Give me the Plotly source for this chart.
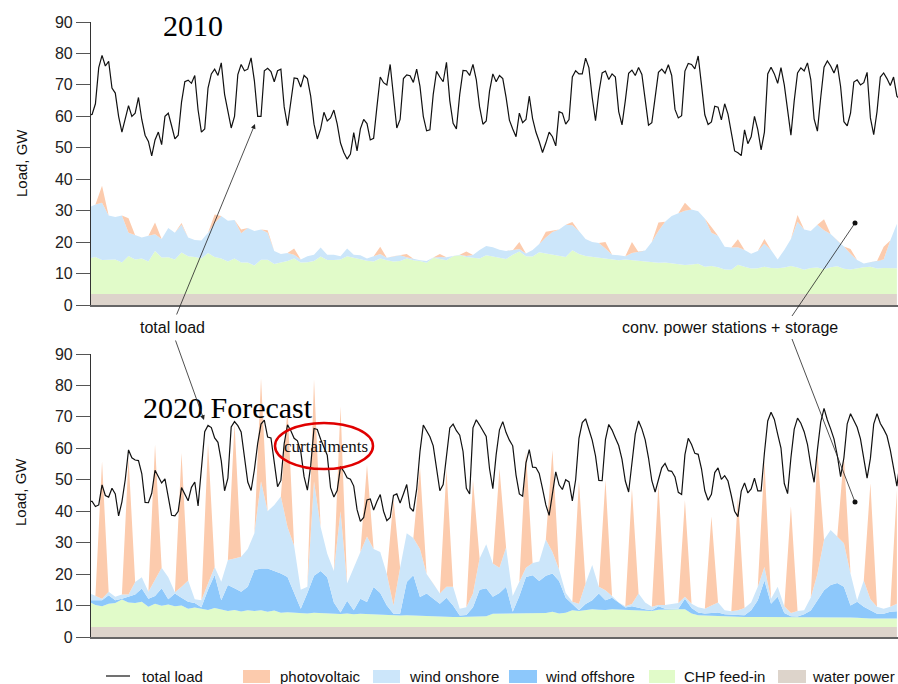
import plotly.graph_objects as go

# ---------------------------------------------------------------------------
# Data: one month of German power feed-in, 2010 vs. 2020 forecast (GW)
# Areas are sampled every 6 h, the total load every 3 h.
# ---------------------------------------------------------------------------
AREA_STEP_H = 6
LOAD_STEP_H = 3

load_2010 = [
    60.5, 60.6, 64, 75.5, 79.4, 76, 77.5, 69, 67.4, 60,
    55, 59, 63.4, 60, 61, 66, 59, 54, 52, 47.4,
    52.5, 55, 51, 60, 61, 57, 52.8, 54, 64.5, 71,
    71.5, 70.5, 73, 62, 55, 56, 69, 73.5, 75, 73,
    77, 67, 61.7, 56.3, 60, 73.3, 76.5, 74.5, 75, 78.6,
    71.3, 60, 60, 74.5, 75.3, 74.2, 71, 74.5, 75, 63,
    57, 65, 72.2, 72, 69.3, 73, 72, 66.4, 57.5, 52.8,
    56, 61.3, 58.5, 59.5, 62, 57.6, 51.5, 48.5, 46.4, 48,
    54.8, 49, 56, 59, 57.7, 52.5, 53, 63, 72.5, 70.7,
    70, 76.5, 66.5, 56.3, 59, 72, 73.2, 72.9, 70.8, 75,
    69.5, 60, 55.4, 55.7, 67, 74.3, 72.5, 71, 77.2, 65,
    57.8, 56, 67, 74.6, 74.5, 73, 76.5, 71.7, 63, 57.5,
    58.5, 68, 73.5, 71, 73, 72, 66, 58.8, 56, 53.5,
    61, 58, 59, 66.4, 59.3, 55, 52, 48.5, 51.5, 55,
    53.5, 50.6, 61.5, 61, 57.5, 59, 72.5, 74.5, 73.5, 73.5,
    78.5, 75.5, 66, 58.6, 67.5, 73.8, 74.4, 71.7, 73.5, 72.5,
    61.5, 57.3, 65, 73.7, 74.7, 73, 75.5, 73.3, 65.3, 57.2,
    58, 65.5, 74, 75, 73.7, 76.4, 73, 62.2, 59.5, 60.2,
    74.4, 76.8, 76.5, 75.1, 79.2, 70, 60.5, 57.4, 58.2, 63.2,
    62.9, 58.9, 64, 60.7, 54.4, 49, 48.4, 47.5, 55.7, 51.3,
    53.5, 60, 55.8, 49.3, 55, 73.5, 75.6, 73.5, 70.5, 75.5,
    70, 61.5, 54, 65, 73.8, 75.4, 74.4, 77, 71.7, 59.2,
    55.3, 66, 75.6, 77.6, 76, 73.8, 76.5, 69.5, 58.3, 57,
    61, 70.9, 71.6, 70, 70.7, 74, 59.5, 54.2, 61.5, 72.5,
    73.8, 72, 69.8, 72.5, 66.4, 65.2,
]

water_2010 = [
    3.5, 3.5, 3.5, 3.5, 3.5, 3.5, 3.5, 3.5, 3.5, 3.5,
    3.5, 3.5, 3.5, 3.5, 3.5, 3.5, 3.5, 3.5, 3.5, 3.5,
    3.5, 3.5, 3.5, 3.5, 3.5, 3.5, 3.5, 3.5, 3.5, 3.5,
    3.5, 3.5, 3.5, 3.5, 3.5, 3.5, 3.5, 3.5, 3.5, 3.5,
    3.5, 3.5, 3.5, 3.5, 3.5, 3.5, 3.5, 3.5, 3.5, 3.5,
    3.5, 3.5, 3.5, 3.5, 3.5, 3.5, 3.5, 3.5, 3.5, 3.5,
    3.5, 3.5, 3.5, 3.5, 3.5, 3.5, 3.5, 3.5, 3.5, 3.5,
    3.5, 3.5, 3.5, 3.5, 3.5, 3.5, 3.5, 3.5, 3.5, 3.5,
    3.5, 3.5, 3.5, 3.5, 3.5, 3.5, 3.5, 3.5, 3.5, 3.5,
    3.5, 3.5, 3.5, 3.5, 3.5, 3.5, 3.5, 3.5, 3.5, 3.5,
    3.5, 3.5, 3.5, 3.5, 3.5, 3.5, 3.5, 3.5, 3.5, 3.5,
    3.5, 3.5, 3.5, 3.5, 3.5, 3.5, 3.5, 3.5, 3.5, 3.5,
    3.5, 3.5, 3.5,
]

chp_2010 = [
    11.3, 11.8, 10.8, 11.0, 11.0, 10.0, 12.1, 11.0, 11.3, 10.3,
    13.7, 11.6, 11.7, 11.0, 13.2, 12.0, 11.8, 11.3, 13.0, 11.8,
    11.3, 10.3, 11.3, 10.0, 10.0, 9.1, 10.9, 10.9, 9.5, 10.0,
    10.5, 11.3, 10.0, 10.1, 10.5, 11.9, 10.8, 10.8, 11.0, 12.0,
    11.5, 10.9, 10.6, 10.3, 11.3, 10.7, 10.3, 10.5, 11.3, 10.7,
    10.5, 9.9, 11.5, 11.1, 10.7, 12.0, 12.3, 11.8, 11.5, 11.3,
    12.3, 11.8, 11.5, 11.1, 12.5, 13.5, 12.0, 11.9, 13.3, 12.9,
    12.5, 12.0, 11.8, 13.9, 12.7, 12.1, 11.8, 11.7, 11.3, 11.1,
    10.7, 11.0, 10.8, 10.7, 10.3, 10.1, 9.9, 10.0, 9.7, 9.5,
    9.2, 9.4, 9.6, 8.7, 8.9, 8.5, 7.8, 7.7, 9.3, 8.7,
    8.1, 8.2, 8.7, 8.3, 8.2, 8.4, 8.9, 8.4, 7.7, 8.3,
    8.4, 7.9, 8.5, 8.8, 8.0, 7.8, 8.2, 8.5, 8.7, 8.1,
    8.3, 8.2, 8.2,
]

onshore_2010 = [
    16.2, 16.7, 18.2, 14.0, 13.5, 15.0, 7.4, 7.7, 6.7, 8.2,
    5.3, 5.9, 9.3, 8.5, 8.8, 6.0, 5.4, 5.7, 6.5, 10.7,
    13.5, 13.0, 12.2, 9.3, 11.0, 10.9, 9.6, 8.6, 4.2, 2.7,
    2.5, 1.2, 1.0, 1.9, 2.0, 2.9, 1.7, 1.7, 1.0, 2.5,
    1.0, 1.4, 0.7, 1.7, 1.4, 0.8, 1.7, 1.8, 0.4, 0.5,
    0.2, 0.6, 0.1, 0.7, 1.0, 0.1, 0.2, 0.3, 0.9, 2.7,
    3.0, 3.1, 2.6, 2.6, 1.4, 0.8, 0.9, 2.1, 2.6, 5.1,
    7.2, 8.5, 10.2, 8.0, 7.3, 5.4, 4.7, 4.5, 3.2, 1.4,
    1.6, 1.0, 2.2, 2.6, 3.5, 6.4, 10.1, 13.0, 15.1, 16.2,
    17.3, 17.5, 16.7, 15.3, 10.6, 10.0, 7.2, 7.1, 5.6, 5.3,
    4.7, 5.5, 7.3, 5.7, 2.8, 5.6, 8.6, 14.6, 12.8, 11.7,
    13.6, 12.4, 10.6, 8.2, 7.1, 5.0, 2.6, 1.2, 1.4, 2.4,
    2.7, 8.8, 14.1,
]

pv_2010 = [
    0, 0, 5.4, 0, 0, 0, 4.6, 0, 0, 0,
    3.7, 0, 0, 0, 0.6, 0, 0, 0, 0, 2.8,
    0, 0, 0, 1.2, 0, 0, 0, 0.8, 0, 0,
    0, 2.0, 0, 0, 0, 0, 0, 0, 0, 0,
    0, 0, 0, 0, 2.3, 0, 0, 0, 1.0, 0,
    0, 0, 0, 0.9, 0, 0, 0, 1.4, 0, 0,
    0, 0, 0, 0, 0, 2.2, 0, 0, 0, 1.8,
    0.5, 0, 0, 1.0, 0, 0, 0, 0, 2.0, 0,
    0, 0, 3.5, 0, 0, 0, 2.7, 0, 0, 0,
    2.5, 0, 0, 0, 1.8, 0, 0, 0, 2.5, 0,
    0, 0, 1.5, 0, 0, 0, 0, 2.1, 0, 0,
    0, 3.5, 0, 0, 0, 1.5, 0, 0, 0, 0,
    4.0, 0, 0,
]

load_2020 = [
    43.1, 43.1, 41.5, 42, 48.4, 45, 44.5, 47.3, 45.5, 38.5,
    43, 50, 59.5, 57, 56.3, 56.1, 52, 42.8, 42.7, 45.7,
    53, 51, 49, 50.3, 44.5, 38.7, 38.5, 40, 47.5, 45.5,
    43.3, 47.6, 49.3, 41.7, 54, 65.3, 67.3, 66.6, 63.3, 61.9,
    56, 46.5, 50.5, 66.8, 68.5, 67.2, 65.2, 57, 49.3, 46.6,
    53.2, 61.6, 67.7, 69, 63.6, 63.3, 55.7, 47.8, 49.8, 61.5,
    67.5, 65.6, 63.2, 62.4, 59, 51, 46.7, 54.5, 66.3, 66,
    62.9, 60.5, 57.8, 47.5, 44.5, 46.6, 54.2, 52.7, 50.6, 50.2,
    48, 40.5, 36.8, 38, 43.6, 43.9, 40.4, 43.1, 45.3, 40,
    37, 38, 45, 45.5, 42.6, 45.5, 48.5, 41.1, 40, 47,
    59, 67.4, 65.3, 63.7, 60.8, 53, 46.5, 48.5, 58, 66.5,
    67.7, 65.6, 64.2, 59, 47.3, 45.5, 66.5, 69.1, 67.4, 65.6,
    63.8, 53.5, 47.2, 58, 65.9, 68.5, 65, 62.6, 60.8, 51.5,
    45.5, 44.8, 55.4, 59.6, 54, 53.9, 52, 47.2, 42, 38.7,
    46, 52.5, 48.4, 46.9, 50, 49.3, 43.3, 50, 63.2, 68.2,
    69.4, 65.7, 62.6, 57.6, 49.8, 49.7, 62.8, 67.6, 65.8, 63.3,
    60.9, 56.5, 49.6, 46.1, 55, 64.5, 68.7, 66.2, 62.7, 57,
    49.7, 46.1, 50, 53.8, 55.2, 52.9, 52.7, 50.9, 46, 45.3,
    58, 63.2, 61.2, 58.4, 58.1, 53.5, 46.5, 43.5, 45.4, 52.3,
    53.8, 50.1, 51.3, 49.6, 45, 40, 38.3, 46.4, 49, 45.8,
    47.1, 50.5, 46.5, 46.5, 58.5, 68.7, 71.5, 69.2, 64.5, 60.1,
    48.8, 45.6, 57, 66.1, 69.6, 68, 65.3, 61.3, 54.6, 49.2,
    59.5, 68.3, 72.7, 69, 66.2, 63, 57.8, 51, 57, 67.8,
    71, 68.6, 66.7, 63, 56.3, 50.5, 56.8, 67.7, 71, 67.9,
    66.1, 64, 59.5, 53.6, 48, 56,
]

water_2020 = [
    3.2, 3.2, 3.2, 3.2, 3.2, 3.2, 3.2, 3.2, 3.2, 3.2,
    3.2, 3.2, 3.2, 3.2, 3.2, 3.2, 3.2, 3.2, 3.2, 3.2,
    3.2, 3.2, 3.2, 3.2, 3.2, 3.2, 3.2, 3.2, 3.2, 3.2,
    3.2, 3.2, 3.2, 3.2, 3.2, 3.2, 3.2, 3.2, 3.2, 3.2,
    3.2, 3.2, 3.2, 3.2, 3.2, 3.2, 3.2, 3.2, 3.2, 3.2,
    3.2, 3.2, 3.2, 3.2, 3.2, 3.2, 3.2, 3.2, 3.2, 3.2,
    3.2, 3.2, 3.2, 3.2, 3.2, 3.2, 3.2, 3.2, 3.2, 3.2,
    3.2, 3.2, 3.2, 3.2, 3.2, 3.2, 3.2, 3.2, 3.2, 3.2,
    3.2, 3.2, 3.2, 3.2, 3.2, 3.2, 3.2, 3.2, 3.2, 3.2,
    3.2, 3.2, 3.2, 3.2, 3.2, 3.2, 3.2, 3.2, 3.2, 3.2,
    3.2, 3.2, 3.2, 3.2, 3.2, 3.2, 3.2, 3.2, 3.2, 3.2,
    3.2, 3.2, 3.2, 3.2, 3.2, 3.2, 3.2, 3.2, 3.2, 3.2,
    3.2, 3.2, 3.2,
]

chp_2020 = [
    8.0, 7.0, 6.6, 7.4, 7.6, 8.7, 7.8, 7.6, 8.0, 6.4,
    7.4, 6.7, 7.1, 6.6, 6.8, 5.8, 6.2, 5.8, 5.4, 6.0,
    5.5, 5.1, 5.4, 4.9, 5.3, 5.1, 5.3, 4.8, 5.2, 4.5,
    4.7, 4.6, 4.4, 4.3, 4.5, 4.4, 4.2, 4.3, 4.1, 4.3,
    4.0, 4.2, 4.1, 4.0, 3.8, 3.9, 3.7, 3.6, 3.7, 3.6,
    3.6, 3.5, 3.4, 3.3, 3.2, 3.2, 3.2, 3.2, 3.3, 3.3,
    3.4, 4.2, 4.2, 4.2, 4.2, 4.2, 4.2, 4.2, 4.2, 4.4,
    4.8, 4.3, 4.5, 5.3, 5.1, 5.4, 5.6, 5.5, 5.4, 5.6,
    5.5, 5.4, 5.5, 5.4, 5.2, 5.1, 5.5, 5.6, 5.7, 5.6,
    5.6, 4.3, 3.7, 3.6, 3.6, 3.6, 3.5, 3.4, 3.3, 3.2,
    3.2, 3.2, 3.2, 3.2, 3.2, 3.2, 3.2, 3.2, 3.1, 3.1,
    3.1, 3.1, 3.0, 3.0, 3.0, 3.0, 2.9, 2.7, 2.7, 2.7,
    2.7, 2.7, 2.7,
]

offshore_2020 = [
    0.5, 1.5, 1.9, 2.7, 0.9, 0.3, 1.8, 2.7, 4.2, 2.6,
    2.4, 5.6, 1.7, 4.0, 2.5, 2.2, 1.4, 0.5, 6.4, 10.5,
    3.0, 8.2, 6.9, 6.3, 7.5, 13.0, 13.3, 13.8, 12.6, 12.5,
    11.2, 6.2, 1.4, 6.5, 11.8, 13.4, 11.6, 3.5, 0.5, 4.0,
    1.3, 4.8, 3.8, 8.7, 7.0, 2.9, 0.5, 0.6, 10.6, 12.8,
    5.9, 7.1, 5.6, 4.1, 6.1, 3.6, 0.4, 0.6, 3.0, 8.5,
    8.9, 5.4, 6.6, 8.6, 0.6, 5.6, 11.7, 12.2, 10.4, 11.9,
    12.2, 10.3, 4.8, 2.0, 0.2, 1.9, 2.9, 5.1, 3.1, 3.7,
    2.1, 0.8, 1.1, 0.6, 0.4, 0.2, 1.1, 0.2, 0.1, 0.2,
    3.4, 1.7, 0.9, 0.7, 0.8, 1.0, 0.5, 0.4, 0.5, 0.5,
    2.1, 5.3, 11.6, 4.2, 6.4, 1.2, 0.2, 0.1, 0.9, 2.1,
    5.2, 8.6, 10.3, 11.0, 9.8, 3.8, 5.1, 3.7, 2.6, 1.5,
    1.5, 2.1, 2.3,
]

onshore_2020 = [
    2.3, 1.3, 0.5, 1.1, 1.1, 1.3, 0.7, 4.0, 3.6, 2.2,
    5.0, 6.5, 7.0, 0.4, 3.5, 6.8, 1.2, 2.2, 2.0, 2.6,
    5.9, 8.0, 9.5, 11.1, 12.0, 11.7, 27.7, 18.2, 21.0, 24.5,
    15.9, 15.0, 6.0, 2.0, 30.0, 14.0, 7.5, 10.0, 32.2, 5.5,
    13.5, 14.8, 20.9, 12.1, 13.0, 10.0, 2.6, 14.6, 15.5, 11.9,
    15.3, 6.2, 4.8, 3.2, 3.5, 6.0, 2.2, 2.5, 4.3, 10.0,
    14.0, 10.6, 8.0, 12.5, 5.0, 4.5, 2.9, 3.9, 6.2, 11.5,
    6.8, 3.7, 1.5, 0.7, 2.1, 6.5, 11.2, 2.2, 3.2, 0.5,
    0.2, 0.4, 0.7, 4.6, 2.2, 1.1, 0.4, 1.2, 1.5, 1.8,
    0.6, 1.4, 1.7, 1.5, 2.4, 3.2, 1.3, 1.2, 1.5, 2.3,
    2.5, 4.3, 4.3, 1.6, 3.2, 2.2, 1.0, 1.8, 1.3, 4.2,
    8.5, 16.0, 17.5, 14.8, 13.8, 10.2, 0.5, 8.4, 3.5, 2.2,
    1.6, 1.6, 2.4,
]

pv_2020 = [
    0, 0, 43.7, 0, 0, 0, 43.5, 0, 0, 0,
    43.2, 0, 0, 0, 42.5, 0, 0, 0, 44.7, 0,
    0, 0, 43.0, 0, 0, 0, 32.8, 0, 0, 0,
    38.0, 0, 0, 0, 32.5, 0, 0, 0, 33.3, 0,
    0, 0, 22.8, 0, 0, 0, 34.0, 0, 0, 0,
    26.1, 0, 0, 0, 37.4, 0, 0, 0, 36.1, 0,
    0, 0, 31.6, 0, 0, 0, 37.0, 0, 0, 0,
    32.5, 0, 0, 0, 39.1, 0, 0, 0, 35.1, 0,
    0, 0, 36.7, 0, 0, 0, 38.6, 0, 0, 0,
    30.7, 0, 0, 0, 28.3, 0, 0, 0, 36.2, 0,
    0, 0, 33.7, 0, 0, 0, 33.9, 0, 0, 0,
    38.7, 0, 0, 0, 27.9, 0, 0, 0, 36.9, 0,
    0, 0, 36.2,
]

y_ticks = [0, 10, 20, 30, 40, 50, 60, 70, 80, 90]

# ---------------------------------------------------------------------------
# Styling
# ---------------------------------------------------------------------------
COL_PV = "#FCCBAD"
COL_ON = "#CCE6FA"
COL_OFF = "#8DC8FB"
COL_CHP = "#E1FBC9"
COL_WATER = "#DDD4CB"
SANS = "Liberation Sans, Arial, Helvetica, sans-serif"
SERIF = "Liberation Serif, Times New Roman, serif"

W, H = 898, 684
M_L, M_R, M_T, M_B = 91, 0, 22, 47
PLOT_W = W - M_L - M_R
PLOT_H = H - M_T - M_B


def px_x(px):
    """Page pixel column -> paper x."""
    return (px - M_L) / PLOT_W


def px_y(py):
    """Page pixel row -> paper y."""
    return (H - M_B - py) / PLOT_H


hours_area = [AREA_STEP_H * i for i in range(len(chp_2010))]
hours_load = [LOAD_STEP_H * i for i in range(len(load_2010))]

fig = go.Figure()


def add_panel(xa, ya, group, layers, load):
    for name, values, color in layers:
        fig.add_trace(go.Scatter(
            x=hours_area, y=values, name=name, mode="lines",
            stackgroup=group, line=dict(width=0, color=color),
            fillcolor=color, xaxis=xa, yaxis=ya, hoverinfo="skip",
            showlegend=False,
        ))
    fig.add_trace(go.Scatter(
        x=hours_load, y=load, name="total load", mode="lines",
        line=dict(color="#111111", width=1.2), xaxis=xa, yaxis=ya,
        hoverinfo="skip", showlegend=False,
    ))


add_panel("x", "y", "y2010", [
    ("water power", water_2010, COL_WATER),
    ("CHP feed-in", chp_2010, COL_CHP),
    ("wind onshore", onshore_2010, COL_ON),
    ("photovoltaic", pv_2010, COL_PV),
], load_2010)

add_panel("x2", "y2", "y2020", [
    ("water power", water_2020, COL_WATER),
    ("CHP feed-in", chp_2020, COL_CHP),
    ("wind offshore", offshore_2020, COL_OFF),
    ("wind onshore", onshore_2020, COL_ON),
    ("photovoltaic", pv_2020, COL_PV),
], load_2020)

x_range = [2, 733]
xaxis_style = dict(range=x_range, showgrid=False, zeroline=False,
                   showticklabels=False, ticks="", showline=True,
                   linecolor="#666666", linewidth=1.6)
yaxis_style = dict(range=[0, 90], tickvals=y_ticks, showgrid=False,
                   zeroline=False, ticks="outside", ticklen=14,
                   tickcolor="#555555", tickwidth=1, showline=True,
                   linecolor="#333333", linewidth=1.2,
                   tickfont=dict(family=SANS, size=16, color="#222222"))

top_bottom = px_y(305)
bot_top = px_y(354)

fig.update_layout(
    width=W, height=H, autosize=False,
    margin=dict(l=M_L, r=M_R, t=M_T, b=M_B),
    paper_bgcolor="white", plot_bgcolor="white",
    xaxis=dict(domain=[0, 1], anchor="y", **xaxis_style),
    yaxis=dict(domain=[top_bottom, 1], anchor="x", **yaxis_style),
    xaxis2=dict(domain=[0, 1], anchor="y2", **xaxis_style),
    yaxis2=dict(domain=[0, bot_top], anchor="x2", **yaxis_style),
    showlegend=False,
)

annotations = []
shapes = []

# Axis titles
for cy in (163, 492):
    annotations.append(dict(
        text="Load, GW", xref="paper", yref="paper", x=px_x(21), y=px_y(cy),
        textangle=-90, showarrow=False, xanchor="center", yanchor="middle",
        font=dict(family=SANS, size=15, color="#111111"),
    ))

# Panel captions
annotations.append(dict(
    text="2010", xref="paper", yref="paper", x=px_x(193), y=px_y(25),
    showarrow=False, xanchor="center", yanchor="middle",
    font=dict(family=SERIF, size=30, color="#000000"),
))
annotations.append(dict(
    text="2020 Forecast", xref="paper", yref="paper", x=px_x(227.5),
    y=px_y(407), showarrow=False, xanchor="center", yanchor="middle",
    font=dict(family=SERIF, size=30, color="#000000"),
))

# Curtailment marker
annotations.append(dict(
    text="curtailments", xref="paper", yref="paper", x=px_x(325.5),
    y=px_y(446), showarrow=False, xanchor="center", yanchor="middle",
    font=dict(family=SERIF, size=17, color="#111111"),
))
shapes.append(dict(
    type="circle", xref="paper", yref="paper",
    x0=px_x(275), x1=px_x(373), y0=px_y(469), y1=px_y(423),
    line=dict(color="#E00000", width=2.5), fillcolor="rgba(0,0,0,0)",
))

# Call-out labels between the panels
annotations.append(dict(
    text="total load", xref="paper", yref="paper", x=px_x(172.5),
    y=px_y(327), showarrow=False, xanchor="center", yanchor="middle",
    font=dict(family=SANS, size=16, color="#111111"),
))
annotations.append(dict(
    text="conv. power stations + storage", xref="paper", yref="paper",
    x=px_x(730), y=px_y(327), showarrow=False, xanchor="center",
    yanchor="middle", font=dict(family=SANS, size=16, color="#111111"),
))

# Arrows from "total load" to both load curves (tail offsets in pixels)
for (tx, ty), (hx, hy) in (((176, 316), (255, 124)), ((175, 339), (204, 420))):
    annotations.append(dict(
        text="", xref="paper", yref="paper", x=px_x(hx), y=px_y(hy),
        axref="pixel", ayref="pixel", ax=tx - hx, ay=ty - hy,
        showarrow=True, arrowhead=2, arrowsize=1.2, arrowwidth=0.8,
        arrowcolor="#222222",
    ))

# Leader lines with dots for the conventional-generation gap
for (tx, ty), (hx, hy) in (((792, 316), (855, 223)), ((792, 339), (855, 502))):
    shapes.append(dict(
        type="line", xref="paper", yref="paper",
        x0=px_x(tx), y0=px_y(ty), x1=px_x(hx), y1=px_y(hy),
        line=dict(color="#222222", width=0.8),
    ))
    shapes.append(dict(
        type="circle", xref="paper", yref="paper",
        xsizemode="pixel", ysizemode="pixel",
        xanchor=px_x(hx), yanchor=px_y(hy),
        x0=-2.5, x1=2.5, y0=-2.5, y1=2.5,
        line=dict(color="#111111", width=0), fillcolor="#111111",
    ))

# Legend row
legend_y = 676
LEGEND_FONT = dict(family=SANS, size=15, color="#111111")
shapes.append(dict(
    type="line", xref="paper", yref="paper",
    x0=px_x(106), x1=px_x(130), y0=px_y(legend_y), y1=px_y(legend_y),
    line=dict(color="#111111", width=1.2),
))
annotations.append(dict(
    text="total load", xref="paper", yref="paper", x=px_x(140),
    y=px_y(legend_y), showarrow=False, xanchor="left", yanchor="middle",
    font=LEGEND_FONT,
))
legend_items = [
    ("photovoltaic", COL_PV, 243, 270, 278),
    ("wind onshore", COL_ON, 373, 400, 407),
    ("wind offshore", COL_OFF, 509, 537, 543),
    ("CHP feed-in", COL_CHP, 649, 675, 682),
    ("water power", COL_WATER, 778, 806, 810),
]
for label, color, sx0, sx1, tx in legend_items:
    shapes.append(dict(
        type="rect", xref="paper", yref="paper",
        x0=px_x(sx0), x1=px_x(sx1), y0=px_y(683), y1=px_y(670),
        line=dict(width=0), fillcolor=color,
    ))
    annotations.append(dict(
        text=label, xref="paper", yref="paper", x=px_x(tx),
        y=px_y(legend_y), showarrow=False, xanchor="left",
        yanchor="middle", font=LEGEND_FONT,
    ))

fig.update_layout(annotations=annotations, shapes=shapes)

fig.write_html("out.html")
